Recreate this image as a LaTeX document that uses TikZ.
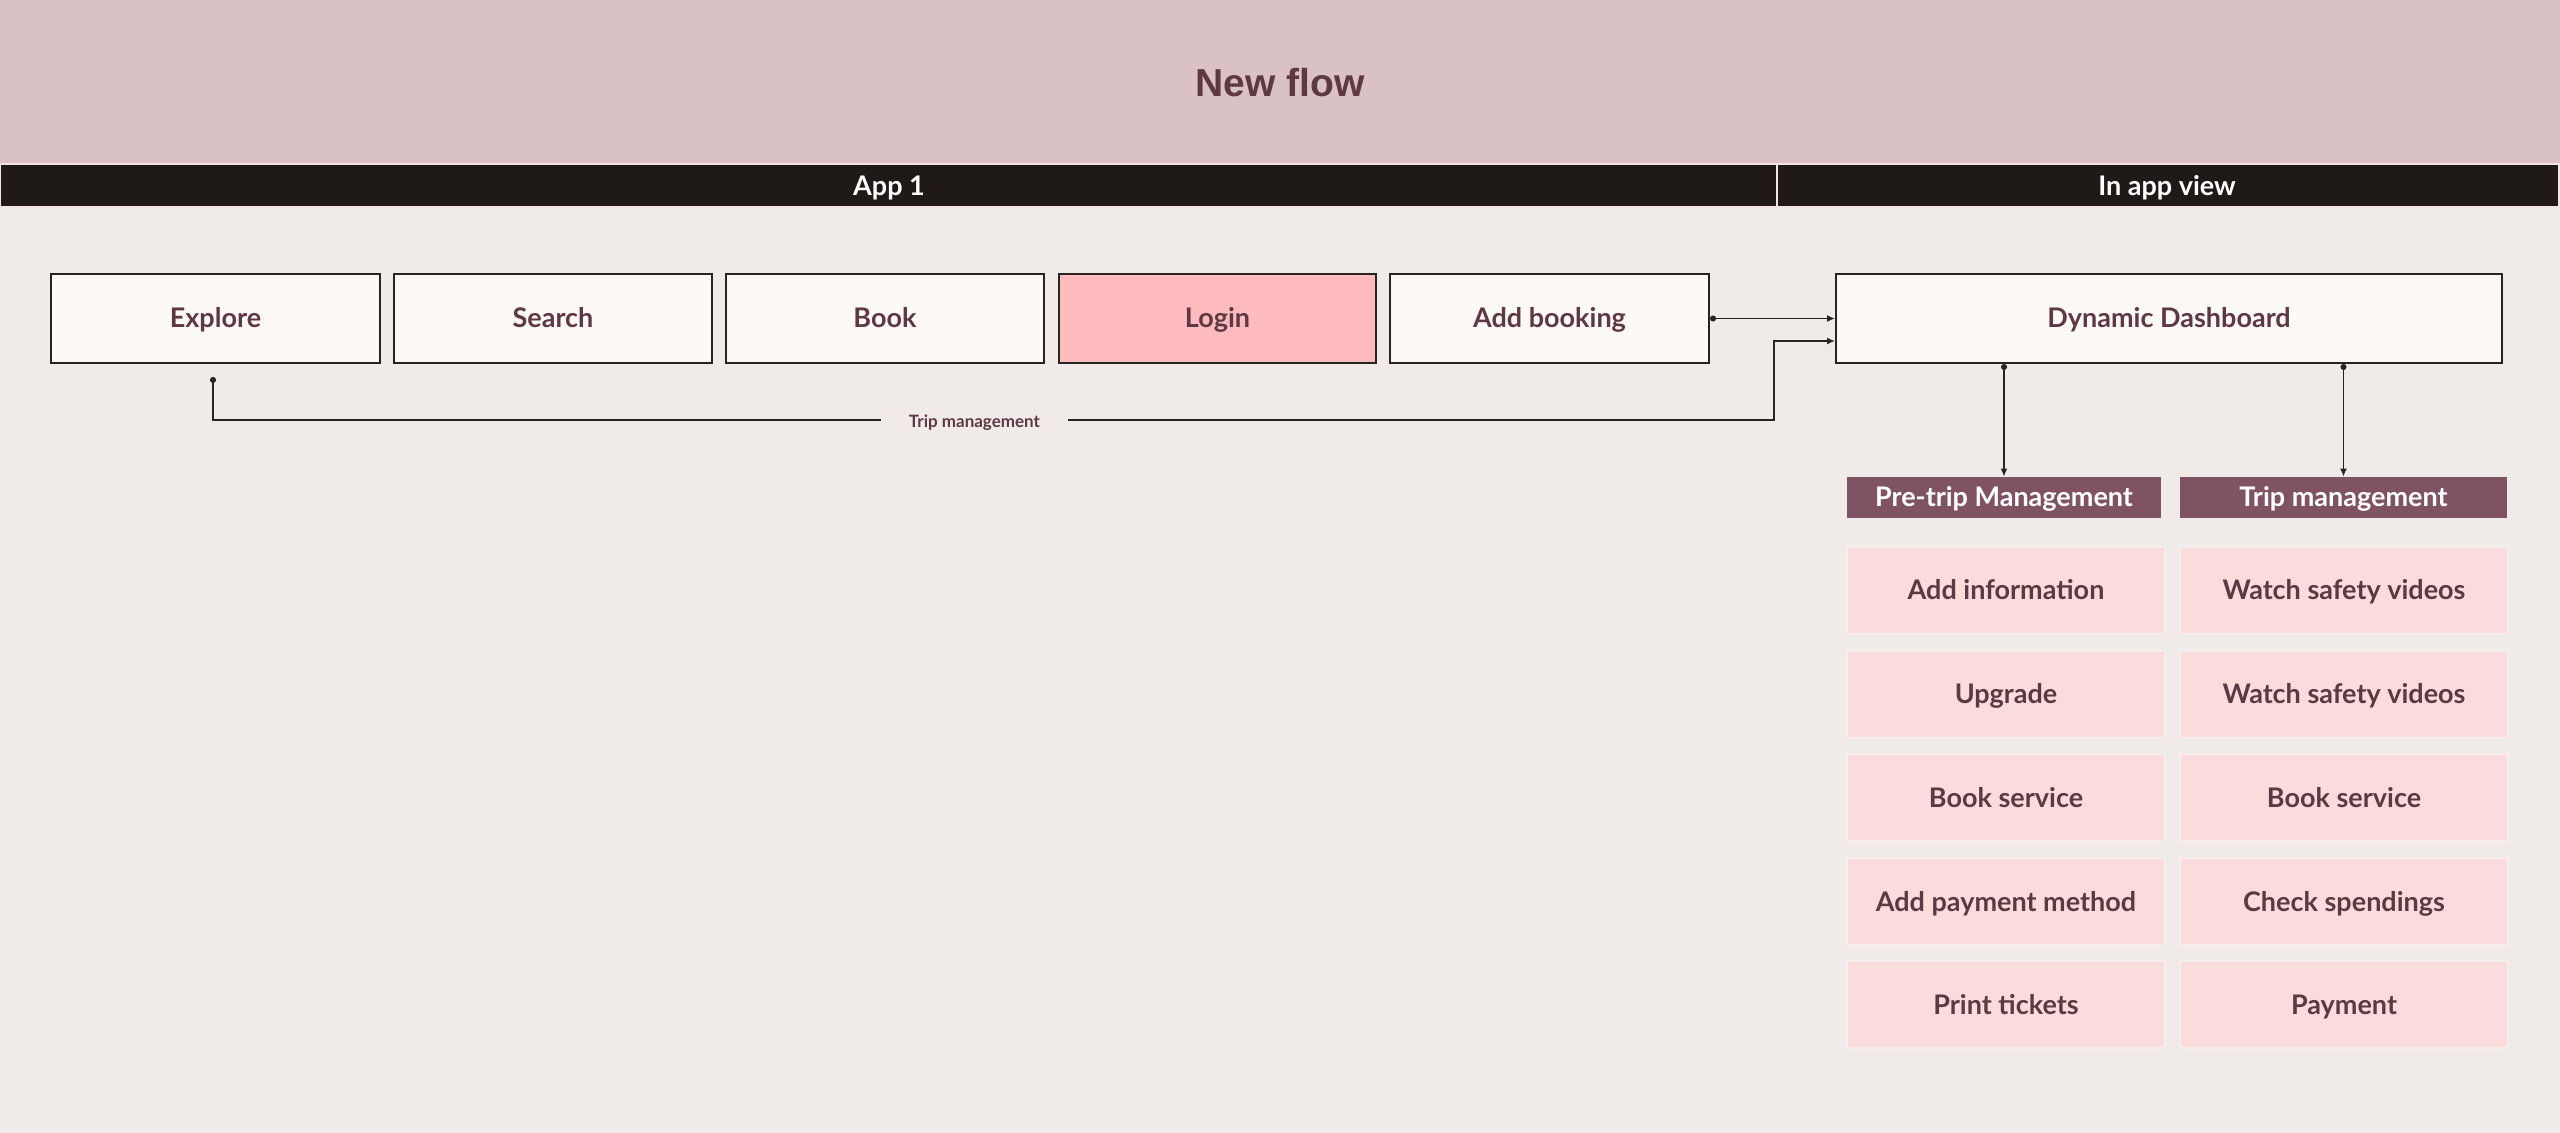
\documentclass[tikz,border=0pt]{standalone}
\usepackage{fontspec}
\setmainfont{Lato}
\newfontfamily\titlefont{Liberation Sans}
\usetikzlibrary{arrows.meta,calc}
\definecolor{band}{HTML}{D9C1C4}
\definecolor{barc}{HTML}{1F1917}
\definecolor{bgc}{HTML}{F0EBE9}
\definecolor{boxfill}{HTML}{FDF9F7}
\definecolor{loginfill}{HTML}{FEBBBD}
\definecolor{txt}{HTML}{5E3843}
\definecolor{hdrfill}{HTML}{7F5363}
\definecolor{itemfill}{HTML}{FBDCDD}
\definecolor{itemline}{HTML}{F9EEEE}
\definecolor{linec}{HTML}{2A2323}
\definecolor{sepc}{HTML}{F3E4E5}
\tikzset{
  boxfont/.style={font=\bfseries\fontsize{13.5}{15}\selectfont, text height=0.95em, text depth=0pt},
  flowbox/.style={draw=linec, line width=1pt, fill=boxfill, minimum height=44.5pt,
    text=txt, boxfont, inner sep=0pt},
  hdrbox/.style={fill=hdrfill, minimum height=20.5pt, text=white, boxfont, inner sep=0pt},
  itembox/.style={draw=itemline, line width=0.6pt, fill=itemfill, minimum height=43.5pt,
    text=txt, boxfont, inner sep=0pt},
  barlabel/.style={text=white, boxfont},
  conn/.style={draw=linec, line width=0.75pt},
  lbl/.style={fill=bgc, text=txt, font=\bfseries\fontsize{8.5}{10}\selectfont, text height=0.8em, text depth=0pt, inner xsep=14pt, inner ysep=1pt},
}
\begin{document}
\begin{tikzpicture}[x=0.5pt,y=-0.5pt]
\useasboundingbox (0,0) rectangle (2560,1133);
% background
\fill[bgc] (0,0) rectangle (2560,1133);
\fill[band] (0,0) rectangle (2560,163);
\fill[sepc] (0,163) rectangle (2560,208);
\fill[barc] (1,165) rectangle (1776,206);
\fill[barc] (1778,165) rectangle (2558,206);
\node[text=txt, font=\titlefont\bfseries\fontsize{19.5}{22}\selectfont] (title) at (1280,83) {New flow};
\node[barlabel] (app1) at (889,186) {App 1};
\node[barlabel] (inapp) at (2167,186) {In app view};
% top row
\node[flowbox, minimum width=164.5pt] (ex) at (215.5,318.5) {Explore};
\node[flowbox, minimum width=159pt] (se) at (553,318.5) {Search};
\node[flowbox, minimum width=159pt] (bk) at (885,318.5) {Book};
\node[flowbox, minimum width=158.5pt, fill=loginfill] (lg) at (1217.5,318.5) {Login};
\node[flowbox, minimum width=159.5pt] (ab) at (1549.5,318.5) {Add booking};
\node[flowbox, minimum width=333pt] (dash) at (2169,318.5) {Dynamic Dashboard};
% headers
\node[hdrbox, minimum width=157pt] (pre) at (2004,497.5) {Pre-trip Management};
\node[hdrbox, minimum width=163.5pt] (trip) at (2343.5,497.5) {Trip management};
% items
\node[itembox, minimum width=159pt] (p1) at (2006,590.5) {Add information};
\node[itembox, minimum width=159pt] (p2) at (2006,694.5) {Upgrade};
\node[itembox, minimum width=159pt] (p3) at (2006,797.5) {Book service};
\node[itembox, minimum width=159pt] (p4) at (2006,901.5) {Add payment method};
\node[itembox, minimum width=159pt] (p5) at (2006,1004.5) {Print tickets};
\node[itembox, minimum width=164pt] (t1) at (2344,590.5) {Watch safety videos};
\node[itembox, minimum width=164pt] (t2) at (2344,694.5) {Watch safety videos};
\node[itembox, minimum width=164pt] (t3) at (2344,797.5) {Book service};
\node[itembox, minimum width=164pt] (t4) at (2344,901.5) {Check spendings};
\node[itembox, minimum width=164pt] (t5) at (2344,1004.5) {Payment};
% connectors
\coordinate (exd) at ([xshift=-1.25pt,yshift=-6.5pt]ex.south);
\coordinate (c1) at (1774,420);
\coordinate (c0) at (exd |- c1);
\coordinate (d2) at ([yshift=-11.25pt]dash.west);
\draw[conn, {Circle[length=3pt]}-{Latex[length=4pt,width=3.5pt]}]
  (exd) -- (c0) -- node[lbl, pos=0.4878] (tmlbl) {Trip management} (c1) -- (c1 |- d2) -- (d2);
\draw[conn, {Circle[length=3pt]}-{Latex[length=4pt,width=3.5pt]}] (ab.east) -- (dash.west);
\draw[conn, {Circle[length=3pt]}-{Latex[length=4pt,width=3.5pt]}] (pre.north |- dash.south) -- (pre.north);
\draw[conn, {Circle[length=3pt]}-{Latex[length=4pt,width=3.5pt]}] (trip.north |- dash.south) -- (trip.north);
\end{tikzpicture}
\end{document}
